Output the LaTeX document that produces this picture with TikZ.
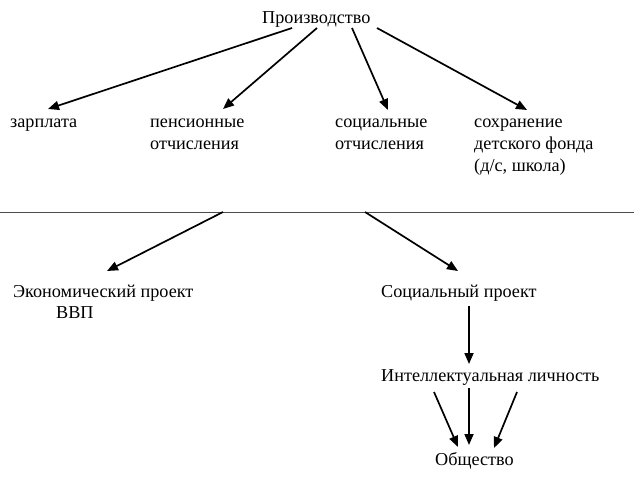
\documentclass[tikz,border=0pt]{standalone}
\usepackage{fontspec}
\setmainfont{Liberation Serif}
\usepackage{tikz}
\usetikzlibrary{arrows.meta,positioning}
\tikzstyle{lbl}=[anchor=base west,inner sep=0pt,align=left,font=\fontsize{18.2}{22}\selectfont]
\tikzstyle{arr}=[line width=1.7pt,-{Triangle[length=11pt,width=9pt]}]
\begin{document}
\begin{tikzpicture}[x=1pt,y=-1pt]
\useasboundingbox (0,0) rectangle (634,481);
% upper part
\draw (262,24) node [lbl] (prod) {Производство};
\draw (10,128) node [lbl] (zarp) {зарплата};
\draw (150,150) node [lbl] (pens) {пенсионные\\отчисления};
\draw (335,150) node [lbl] (soc) {социальные\\отчисления};
\draw (474,172) node [lbl] (child) {сохранение\\детского фонда\\(д/с, школа)};
% lower part
\draw (13,297) node [lbl] (econ) {Экономический проект};
\draw (56,318) node [lbl] (gdp) {ВВП};
\draw (381,297) node [lbl] (socp) {Социальный проект};
\draw (381,381) node [lbl] (intel) {Интеллектуальная личность};
\draw (435,465) node [lbl] (soci) {Общество};
\draw[line width=1pt,gray!60!black] (0,212) -- (634,212);
\coordinate (sepl) at (223,212);
\coordinate (sepr) at (365,212);
\draw[arr] ([shift={(30,4)}]prod.base west) -- ([shift={(38,-19)}]zarp.base west);
\draw[arr] ([shift={(55,4)}]prod.base west) -- ([shift={(73,-41)}]pens.base west);
\draw[arr] ([shift={(90,4)}]prod.base west) -- ([shift={(53,-40)}]soc.base west);
\draw[arr] ([shift={(115,4)}]prod.base west) -- ([shift={(53,-62)}]child.base west);
\draw[arr] (sepl) -- ([shift={(94,-26)}]econ.base west);
\draw[arr] (sepr) -- ([shift={(77,-26)}]socp.base west);
\draw[arr] ([shift={(88,9)}]socp.base west) -- ([shift={(88,-17)}]intel.base west);
\draw[arr] ([shift={(53,11)}]intel.base west) -- ([shift={(23,-18)}]soci.base west);
\draw[arr] ([shift={(88,7)}]intel.base west) -- ([shift={(34,-20)}]soci.base west);
\draw[arr] ([shift={(136,11)}]intel.base west) -- ([shift={(59,-17)}]soci.base west);
\end{tikzpicture}
\end{document}
